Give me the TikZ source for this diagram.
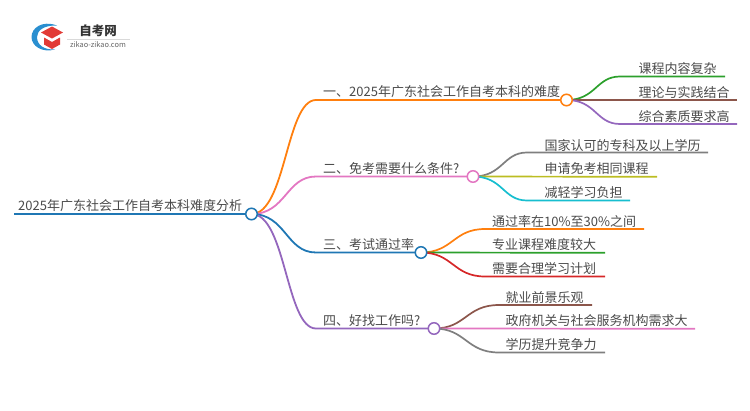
\documentclass[tikz,border=0pt]{standalone}
\usepackage{fontspec}
\setmainfont{Noto Sans CJK SC}
\definecolor{cOrange}{HTML}{FF7F0E}
\definecolor{cPink}{HTML}{E377C2}
\definecolor{cBlue}{HTML}{1F77B4}
\definecolor{cPurple}{HTML}{9467BD}
\definecolor{cGreen}{HTML}{2CA02C}
\definecolor{cBrown}{HTML}{8C564B}
\definecolor{cGray}{HTML}{7F7F7F}
\definecolor{cOlive}{HTML}{BCBD22}
\definecolor{cCyan}{HTML}{17BECF}
\definecolor{cRed}{HTML}{D62728}
\definecolor{cText}{HTML}{4A4A4A}
\definecolor{cLogoBlue}{HTML}{2A8FD0}
\definecolor{cLogoRed}{HTML}{E23B36}
\tikzset{
  x=1pt,y=-1pt,
  label/.style={anchor=base west,inner sep=0pt,text=cText,font=\fontsize{13}{14}\selectfont},
  hub/.style={circle,draw=#1,fill=white,line width=1.5pt,minimum width=10.5pt,minimum height=11.5pt,inner sep=0pt},
  main/.style={line width=1.8pt,#1},
  sub/.style={line width=1.7pt,#1},
}
\begin{document}
\begin{tikzpicture}
\useasboundingbox (0,0) rectangle (750,410);
% hubs positions
\coordinate (rs) at (14,214);
\coordinate (r) at (251.5,214);
\coordinate (h1) at (566.5,100);
\coordinate (h2) at (473,176.5);
\coordinate (h3) at (421,252.5);
\coordinate (h4) at (434,328.5);
% curve end points of main branches
\coordinate (m1) at (316,100);
\coordinate (m2) at (316,176.5);
\coordinate (m3) at (316,252.5);
\coordinate (m4) at (316,328.5);
% main branches
\draw[main=cOrange] (r) .. controls (286,214) and (286,100) .. (m1) -- (h1);
\draw[main=cPink] (r) .. controls (286,214) and (286,176.5) .. (m2) -- (h2);
\draw[main=cBlue] (r) .. controls (286,214) and (286,252.5) .. (m3) -- (h3);
\draw[main=cPurple] (r) .. controls (286,214) and (286,328.5) .. (m4) -- (h4);
\draw[line width=2.4pt,cBlue] (rs) -- (r);
% branch 1 children
\coordinate (a1) at (620,76.5); \coordinate (a1e) at (725,76.5);
\coordinate (a2e) at (737,100);
\coordinate (a3) at (620,124); \coordinate (a3e) at (737,124);
\draw[sub=cGreen] (h1) .. controls (596,100) and (596,76.5) .. (a1) -- (a1e);
\draw[sub=cBrown] (h1) -- (a2e);
\draw[sub=cPurple] (h1) .. controls (596,100) and (596,124) .. (a3) -- (a3e);
% branch 2 children
\coordinate (b1) at (527,152.5); \coordinate (b1e) at (708,152.5);
\coordinate (b2e) at (657,176.8);
\coordinate (b3) at (527,200.5); \coordinate (b3e) at (630,200.5);
\draw[sub=cGray] (h2) .. controls (503,176.5) and (503,152.5) .. (b1) -- (b1e);
\draw[sub=cOlive] (h2) -- (b2e);
\draw[sub=cCyan] (h2) .. controls (503,176.5) and (503,200.5) .. (b3) -- (b3e);
% branch 3 children
\coordinate (c1) at (485,229); \coordinate (c1e) at (644,229);
\coordinate (c2e) at (605,252.8);
\coordinate (c3) at (485,276.5); \coordinate (c3e) at (605,276.5);
\draw[sub=cOrange] (h3) .. controls (453,252.5) and (453,229) .. (c1) -- (c1e);
\draw[sub=cGreen] (h3) -- (c2e);
\draw[sub=cRed] (h3) .. controls (453,252.5) and (453,276.5) .. (c3) -- (c3e);
% branch 4 children
\coordinate (d1) at (499,305); \coordinate (d1e) at (592,305);
\coordinate (d2e) at (695,328.8);
\coordinate (d3) at (499,352.5); \coordinate (d3e) at (605,352.5);
\draw[sub=cBrown] (h4) .. controls (466,328.5) and (466,305) .. (d1) -- (d1e);
\draw[sub=cPink] (h4) -- (d2e);
\draw[sub=cGray] (h4) .. controls (466,328.5) and (466,352.5) .. (d3) -- (d3e);
% hubs
\node[hub=cBlue] (nr) at (r) {};
\node[hub=cOrange] (n1) at (h1) {};
\node[hub=cPink] (n2) at (h2) {};
\node[hub=cBlue] (n3) at (h3) {};
\node[hub=cPurple] (n4) at (h4) {};
% labels
\node[label] (tr) at (18,210.5) {2025年广东社会工作自考本科难度分析};
\node[label] (t1) at (323,96.5) {一、2025年广东社会工作自考本科的难度};
\node[label] (t2) at (323,173) {二、免考需要什么条件?};
\node[label] (t3) at (323,249) {三、考试通过率};
\node[label] (t4) at (323,325) {四、好找工作吗?};
\node[label] (ta1) at (638.5,73.5) {课程内容复杂};
\node[label] (ta2) at (638.5,97) {理论与实践结合};
\node[label] (ta3) at (638.5,121) {综合素质要求高};
\node[label] (tb1) at (544.5,150) {国家认可的专科及以上学历};
\node[label] (tb2) at (544.5,173.5) {申请免考相同课程};
\node[label] (tb3) at (544.5,197.5) {减轻学习负担};
\node[label] (tc1) at (492,226) {通过率在10\%至30\%之间};
\node[label] (tc2) at (492,249.5) {专业课程难度较大};
\node[label] (tc3) at (492,273.5) {需要合理学习计划};
\node[label] (td1) at (505.5,302) {就业前景乐观};
\node[label] (td2) at (505.5,325.5) {政府机关与社会服务机构需求大};
\node[label] (td3) at (505.5,349.5) {学历提升竞争力};
% logo
\fill[cLogoBlue] (57,25.5) .. controls (42,20) and (31.5,28) .. (31.5,37) .. controls (31.5,46) and (42,53) .. (55,49.5) .. controls (44,50) and (37,45) .. (37,37) .. controls (37,30) and (45,25) .. (57,25.5) -- cycle;
\fill[cLogoRed] (52,26.5) -- (63,32.5) -- (52,38.5) -- (41,32.5) -- cycle;
\fill[cLogoRed] (44,37.5) -- (52,42) -- (60,37.5) -- (60,44.5) -- (52,49) -- (44,44.5) -- cycle;
\node[inner sep=0pt,text=black!80,font=\fontsize{12.5}{14}\selectfont\bfseries] (lg) at (98,30.5) {自考网};
\draw[black!15,line width=0.7pt] (67,39) -- (130,39);
\node[inner sep=0pt,text=black!60,font=\fontsize{7.4}{9}\selectfont] (lgs) at (98,45) {zikao-zikao.com};
\end{tikzpicture}
\end{document}
